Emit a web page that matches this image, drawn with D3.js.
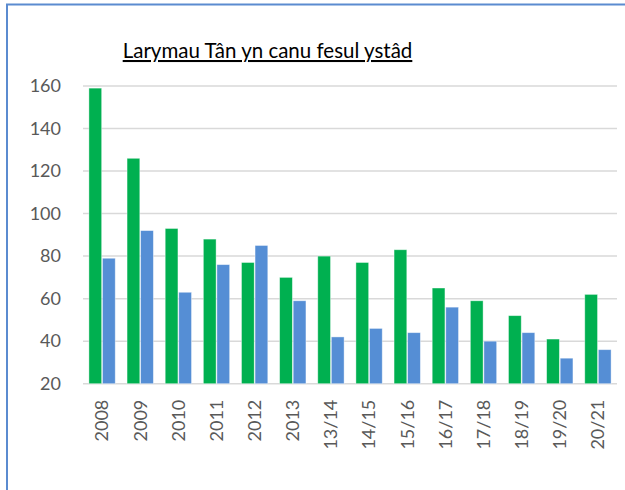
<!DOCTYPE html>
<head>
<meta charset="utf-8">
<title>Larymau Tân</title>
<style>
    body { margin: 0; background: white; }
    .axis text { fill: #595959; font: 18px Lato, "Liberation Sans", sans-serif; }
    .axis path, .axis line { fill: none; stroke: none; }
    .grid line { stroke: #d9d9d9; stroke-width: 1.5px; }
    .title { fill: #000; font: 20.5px Lato, "Liberation Sans", sans-serif; text-decoration: underline; }
</style>
</head>
<body>
<svg></svg>
<script src="https://cdn.jsdelivr.net/npm/d3@7"></script>
<script>

    var categories = ["2008", "2009", "2010", "2011", "2012", "2013", "13/14", "14/15", "15/16", "16/17", "17/18", "18/19", "19/20", "20/21"];
    var greenValues = [159, 126, 93, 88, 77, 70, 80, 77, 83, 65, 59, 52, 41, 62];
    var blueValues = [79, 92, 63, 76, 85, 59, 42, 46, 44, 56, 40, 44, 32, 36];
    var yTicks = [20, 40, 60, 80, 100, 120, 140, 160];
    var seriesKeys = ["green", "blue"];
    var colors = {green: "#00B050", blue: "#558ED5"};

    var svg = d3.select("svg")
        .attr("width", 625)
        .attr("height", 490);

    // chart frame, only left and top edges show
    svg.append("rect")
        .attr("x", 7).attr("y", 4.5)
        .attr("width", 700).attr("height", 600)
        .attr("fill", "none")
        .attr("stroke", "#5B8BD0")
        .attr("stroke-width", 2);

    var plotLeft = 83, plotRight = 617, plotTop = 86, plotBottom = 383.7;

    var data = categories.map(function (c, i) {
        return {cat: c, green: greenValues[i], blue: blueValues[i]};
    });

    var x0 = d3.scaleBand()
        .domain(categories)
        .range([plotLeft, plotRight])
        .paddingInner(0.31)
        .paddingOuter(0.155);

    var x1 = d3.scaleBand()
        .domain(seriesKeys)
        .range([0, x0.bandwidth()])
        .paddingInner(0.06);

    var y = d3.scaleLinear()
        .domain([20, 160])
        .range([plotBottom, plotTop]);

    svg.append("g")
        .attr("class", "grid")
        .selectAll("line")
        .data(yTicks)
        .enter().append("line")
        .attr("x1", plotLeft).attr("x2", plotRight)
        .attr("y1", function (d) { return y(d); })
        .attr("y2", function (d) { return y(d); });

    svg.append("g")
        .attr("class", "axis axis--y")
        .attr("transform", "translate(" + plotLeft + ",0)")
        .call(d3.axisLeft(y).tickValues(yTicks).tickSize(0).tickPadding(22));

    var group = svg.selectAll(".cat")
        .data(data)
        .enter().append("g")
        .attr("class", "cat")
        .attr("transform", function (d) { return "translate(" + x0(d.cat) + ",0)"; });

    group.selectAll("rect")
        .data(function (d) {
            return seriesKeys.map(function (k) { return {key: k, value: d[k]}; });
        })
        .enter().append("rect")
        .attr("x", function (d) { return x1(d.key); })
        .attr("y", function (d) { return y(d.value); })
        .attr("width", x1.bandwidth())
        .attr("height", function (d) { return plotBottom - y(d.value); })
        .attr("fill", function (d) { return colors[d.key]; })
        .attr("stroke", "rgba(255,255,255,0.5)")
        .attr("stroke-width", 0.8);

    var xAxis = svg.append("g")
        .attr("class", "axis axis--x")
        .attr("transform", "translate(0," + plotBottom + ")")
        .call(d3.axisBottom(x0).tickSize(0).tickPadding(0));

    xAxis.selectAll("text")
        .attr("text-anchor", "end")
        .attr("transform", "rotate(-90)")
        .attr("x", -16)
        .attr("y", 0)
        .attr("dy", "0.35em");

    svg.append("text")
        .attr("class", "title")
        .attr("x", 267.5)
        .attr("y", 58)
        .attr("text-anchor", "middle")
        .text("Larymau Tân yn canu fesul ystâd");

</script>
</body>
